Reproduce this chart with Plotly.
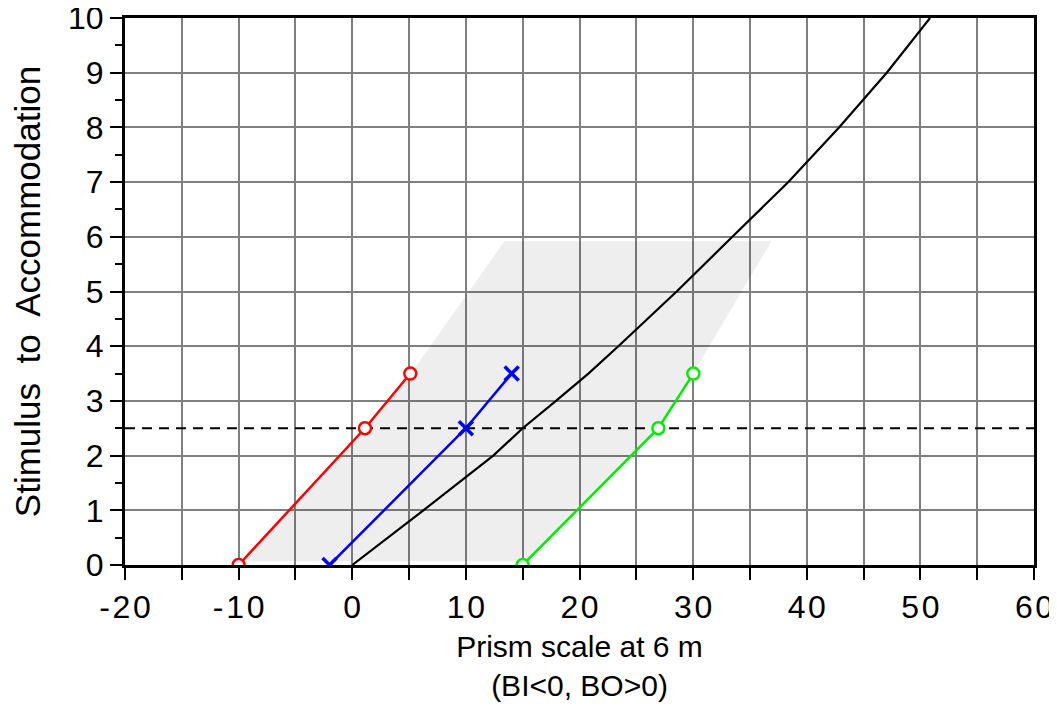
import plotly.graph_objects as go

# ---- data ----
x_ticks = [-20, -15, -10, -5, 0, 5, 10, 15, 20, 25, 30, 35, 40, 45, 50, 55, 60]
x_tick_labels = ["-20", "", "-10", "", "0", "", "10", "", "20", "", "30", "", "40", "", "50", "", "60"]
y_ticks = [0, 1, 2, 3, 4, 5, 6, 7, 8, 9, 10]
y_tick_labels = ["0", "1", "2", "3", "4", "5", "6", "7", "8", "9", "10"]

# shaded zone (polygon vertices)
zone_x = [-9.7, 1.2, 5.15, 13.4, 36.9, 30.0, 27.0, 15.3, -9.7]
zone_y = [0.07, 2.5, 3.5, 5.92, 5.92, 3.5, 2.5, 0.07, 0.07]

# black demand curve
demand_x = [0.0, 6.26, 12.41, 15.0, 17.93, 20.78, 23.42, 28.55, 33.45, 38.38, 42.84, 47.04, 50.85]
demand_y = [0.0, 1.0, 2.0, 2.5, 3.0, 3.5, 4.0, 5.0, 6.0, 7.0, 8.0, 9.0, 10.0]

# red (circles)
red_x = [-10.0, 1.12, 5.11]
red_y = [0.0, 2.5, 3.5]
# blue (crosses)
blue_x = [-2.0, 10.0, 14.03]
blue_y = [0.0, 2.5, 3.5]
# green (circles)
green_x = [15.0, 26.94, 30.02]
green_y = [0.0, 2.5, 3.5]

# dashed reference level
ref_level = 2.5
x_range = [-20, 60]
y_range = [0, 10]

FONT = "Liberation Sans, Arial, sans-serif"

def spaced(s):
    return "\u200a".join(list(s)) if s else s

fig = go.Figure()

fig.add_trace(go.Scatter(
    x=zone_x, y=zone_y, mode="lines", fill="toself",
    fillcolor="rgba(0,0,0,0.065)", line=dict(width=0), hoverinfo="skip", showlegend=False))

fig.add_trace(go.Scatter(
    x=x_range, y=[ref_level, ref_level], mode="lines",
    line=dict(color="black", width=2, dash="10px,7px"), showlegend=False))

fig.add_trace(go.Scatter(
    x=demand_x, y=demand_y, mode="lines",
    line=dict(color="black", width=2.2), showlegend=False))

fig.add_trace(go.Scatter(
    x=red_x, y=red_y, mode="lines+markers",
    line=dict(color="#ff0000", width=2.5),
    marker=dict(symbol="circle", size=12, color="white", line=dict(color="#ff0000", width=2.5)),
    showlegend=False))

fig.add_trace(go.Scatter(
    x=blue_x, y=blue_y, mode="lines+markers",
    line=dict(color="#0000ff", width=2.5),
    marker=dict(symbol="x-thin", size=14, color="#0000ff", line=dict(color="#0000ff", width=3.5)),
    showlegend=False))

fig.add_trace(go.Scatter(
    x=green_x, y=green_y, mode="lines+markers",
    line=dict(color="#00ee00", width=2.5),
    marker=dict(symbol="circle", size=12, color="white", line=dict(color="#00ee00", width=2.5)),
    showlegend=False))

fig.update_layout(
    width=1041, height=694,
    margin=dict(l=117, r=15, t=10, b=137),
    paper_bgcolor="white", plot_bgcolor="white",
    font=dict(family=FONT, color="black"),
    showlegend=False,
)

fig.update_xaxes(
    range=x_range, tickmode="array", tickvals=x_ticks,
    ticktext=[spaced(t) for t in x_tick_labels],
    ticks="outside", ticklen=12, tickwidth=2, tickcolor="black",
    tickfont=dict(size=32, family=FONT), ticklabeloverflow="allow",
    showgrid=True, gridcolor="#808080", gridwidth=2,
    showline=True, linecolor="black", linewidth=3, mirror=True,
    zeroline=False, automargin=False,
    title=dict(text="Prism scale at 6 m<br>(BI&lt;0, BO&gt;0)", font=dict(size=30, family=FONT), standoff=26),
)

fig.update_yaxes(
    range=y_range, tickmode="array", tickvals=y_ticks, ticktext=y_tick_labels,
    ticks="outside", ticklen=12, tickwidth=2, tickcolor="black",
    tickfont=dict(size=32, family=FONT), ticklabeloverflow="allow",
    minor=dict(dtick=0.5, tick0=0, ticks="outside", ticklen=7, tickwidth=2, tickcolor="black", showgrid=False),
    showgrid=True, gridcolor="#808080", gridwidth=2,
    showline=True, linecolor="black", linewidth=3, mirror=True,
    zeroline=False, automargin=False,
    title=dict(text="Stimulus\u00a0 to\u00a0 Accommodation", font=dict(size=35, family=FONT), standoff=32),
)

fig.write_html("out.html")
